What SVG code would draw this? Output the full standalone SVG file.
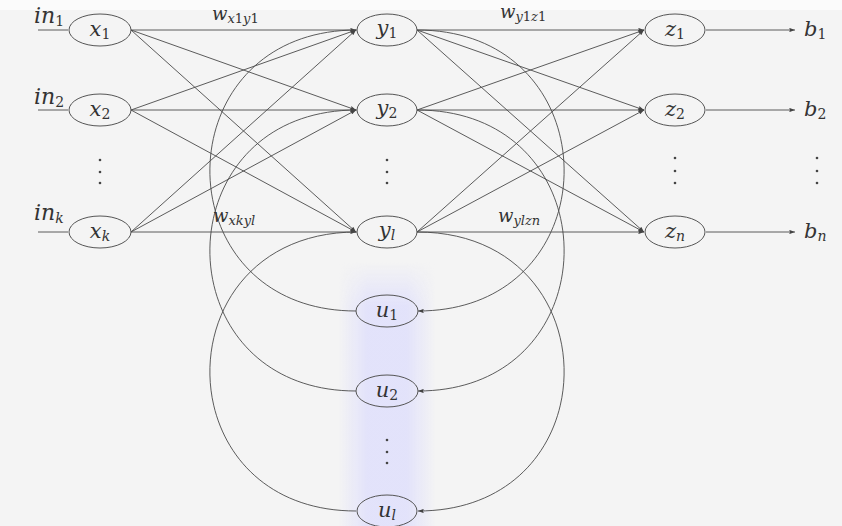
<svg xmlns="http://www.w3.org/2000/svg" width="842" height="526" viewBox="0 0 842 526">
<defs>
<style>
.n{fill:none;stroke:#555;stroke-width:1}
.e{fill:none;stroke:#4a4a4a;stroke-width:0.9}
.t{font-family:"DejaVu Serif","Liberation Serif",serif;font-style:italic;fill:#333}
.lbl{font-size:21px}
.in{font-size:22px}
.w{font-size:18px}
.b{font-size:21px}
.s{font-size:14px}
.ws{font-size:13px}
.u{font-style:normal}
.d{fill:#444}
</style>
<marker id="ar" viewBox="0 0 8 6" refX="8" refY="3" markerWidth="6" markerHeight="4.5" orient="auto" markerUnits="userSpaceOnUse"><path d="M0,0 L8,3 L0,6 Q2.5,3 0,0Z" fill="#444"/></marker>
<linearGradient id="bh" x1="0" y1="0" x2="1" y2="0">
<stop offset="0" stop-color="#dedefc" stop-opacity="0"/>
<stop offset="0.3" stop-color="#dedefc" stop-opacity="0.8"/>
<stop offset="0.7" stop-color="#dedefc" stop-opacity="0.8"/>
<stop offset="1" stop-color="#dedefc" stop-opacity="0"/>
</linearGradient>
<linearGradient id="bv" x1="0" y1="0" x2="0" y2="1">
<stop offset="0" stop-color="#fff" stop-opacity="0"/>
<stop offset="1" stop-color="#fff" stop-opacity="1"/>
</linearGradient>
<mask id="mv" maskUnits="userSpaceOnUse" x="330" y="250" width="115" height="276"><rect x="330" y="262" width="115" height="44" fill="url(#bv)"/><rect x="330" y="305" width="115" height="221" fill="#fff"/></mask>
</defs>
<rect width="842" height="526" fill="#f4f4f4"/>
<rect width="842" height="10" fill="#fbfbfb"/>
<rect x="338" y="262" width="98" height="264" fill="url(#bh)" mask="url(#mv)"/>

<g id="connectors">
<line class="e" x1="38" y1="30" x2="68" y2="30"/>
<line class="e" x1="38" y1="110" x2="68" y2="110"/>
<line class="e" x1="38" y1="232" x2="68" y2="232"/>
<g marker-end="url(#ar)">
<line class="e" x1="131" y1="30" x2="356" y2="30"/>
<line class="e" x1="131" y1="30" x2="356" y2="110"/>
<line class="e" x1="131" y1="30" x2="356" y2="232"/>
<line class="e" x1="131" y1="110" x2="356" y2="30"/>
<line class="e" x1="131" y1="110" x2="356" y2="110"/>
<line class="e" x1="131" y1="110" x2="356" y2="232"/>
<line class="e" x1="131" y1="232" x2="356" y2="30"/>
<line class="e" x1="131" y1="232" x2="356" y2="110"/>
<line class="e" x1="131" y1="232" x2="356" y2="232"/>
<line class="e" x1="417" y1="30" x2="644" y2="30"/>
<line class="e" x1="417" y1="30" x2="644" y2="110"/>
<line class="e" x1="417" y1="30" x2="644" y2="232"/>
<line class="e" x1="417" y1="110" x2="644" y2="30"/>
<line class="e" x1="417" y1="110" x2="644" y2="110"/>
<line class="e" x1="417" y1="110" x2="644" y2="232"/>
<line class="e" x1="417" y1="232" x2="644" y2="30"/>
<line class="e" x1="417" y1="232" x2="644" y2="110"/>
<line class="e" x1="417" y1="232" x2="644" y2="232"/>
<line class="e" x1="706" y1="30" x2="795" y2="30"/>
<line class="e" x1="706" y1="110" x2="795" y2="110"/>
<line class="e" x1="706" y1="232" x2="795" y2="232"/>
<path class="e" d="M417,30 C613,30 613,311 418,311"/>
<path class="e" d="M417,110 C613,110 613,391 418,391"/>
<path class="e" d="M417,232 C613,232 613,511 418,511"/>
</g>
<path class="e" d="M356,311 C161,311 161,30 357,30"/>
<path class="e" d="M356,391 C161,391 161,110 357,110"/>
<path class="e" d="M356,511 C161,511 161,232 357,232"/>
</g>

<g id="in-labels" class="t">
<text class="in" x="34" y="23">in<tspan class="s u" dy="3">1</tspan></text>
<text class="in" x="34" y="104">in<tspan class="s u" dy="3">2</tspan></text>
<text class="in" x="34" y="220">in<tspan class="s" dy="3">k</tspan></text>
</g>

<g id="weight-labels" class="t">
<text class="w" x="212" y="20">w<tspan class="ws" dy="3">x</tspan><tspan class="ws u">1</tspan><tspan class="ws">y</tspan><tspan class="ws u">1</tspan></text>
<text class="w" x="500" y="18">w<tspan class="ws" dy="3">y</tspan><tspan class="ws u">1</tspan><tspan class="ws">z</tspan><tspan class="ws u">1</tspan></text>
<text class="w" x="213" y="222">w<tspan class="ws" dy="3">xkyl</tspan></text>
<text class="w" x="498" y="222">w<tspan class="ws" dy="3">ylzn</tspan></text>
</g>

<g id="x1"><ellipse class="n" cx="100" cy="30" rx="31" ry="16"/><text class="t lbl" x="100" y="36" text-anchor="middle">x<tspan class="s u" dy="3">1</tspan></text></g>
<g id="x2"><ellipse class="n" cx="100" cy="110" rx="31" ry="16"/><text class="t lbl" x="100" y="116" text-anchor="middle">x<tspan class="s u" dy="3">2</tspan></text></g>
<g id="xk"><ellipse class="n" cx="100" cy="232" rx="31" ry="16"/><text class="t lbl" x="100" y="238" text-anchor="middle">x<tspan class="s" dy="3">k</tspan></text></g>

<g id="y1"><ellipse class="n" cx="387" cy="30" rx="30" ry="16"/><text class="t lbl" x="387" y="35" text-anchor="middle">y<tspan class="s u" dy="3">1</tspan></text></g>
<g id="y2"><ellipse class="n" cx="387" cy="110" rx="30" ry="16"/><text class="t lbl" x="387" y="115" text-anchor="middle">y<tspan class="s u" dy="3">2</tspan></text></g>
<g id="yl"><ellipse class="n" cx="387" cy="232" rx="30" ry="16"/><text class="t lbl" x="387" y="237" text-anchor="middle">y<tspan class="s" dy="3">l</tspan></text></g>

<g id="z1"><ellipse class="n" cx="675" cy="30" rx="30" ry="16"/><text class="t lbl" x="675" y="36" text-anchor="middle">z<tspan class="s u" dy="3">1</tspan></text></g>
<g id="z2"><ellipse class="n" cx="675" cy="110" rx="30" ry="16"/><text class="t lbl" x="675" y="116" text-anchor="middle">z<tspan class="s u" dy="3">2</tspan></text></g>
<g id="zn"><ellipse class="n" cx="675" cy="232" rx="30" ry="16"/><text class="t lbl" x="675" y="238" text-anchor="middle">z<tspan class="s" dy="3">n</tspan></text></g>

<g id="u1"><ellipse class="n" cx="387" cy="311" rx="31" ry="16"/><text class="t lbl" x="387" y="317" text-anchor="middle">u<tspan class="s u" dy="3">1</tspan></text></g>
<g id="u2"><ellipse class="n" cx="387" cy="391" rx="31" ry="16"/><text class="t lbl" x="387" y="397" text-anchor="middle">u<tspan class="s u" dy="3">2</tspan></text></g>
<g id="ul"><ellipse class="n" cx="387" cy="511" rx="30" ry="16"/><text class="t lbl" x="387" y="517" text-anchor="middle">u<tspan class="s" dy="3">l</tspan></text></g>

<g id="outputs" class="t">
<text class="b" x="804" y="36">b<tspan class="s u" dy="3">1</tspan></text>
<text class="b" x="804" y="116">b<tspan class="s u" dy="3">2</tspan></text>
<text class="b" x="804" y="238">b<tspan class="s" dy="3">n</tspan></text>
</g>

<g id="dots" class="d">
<circle cx="100" cy="160" r="1.3"/><circle cx="100" cy="172" r="1.3"/><circle cx="100" cy="183" r="1.3"/>
<circle cx="387" cy="160" r="1.3"/><circle cx="387" cy="172" r="1.3"/><circle cx="387" cy="183" r="1.3"/>
<circle cx="675" cy="158" r="1.3"/><circle cx="675" cy="171" r="1.3"/><circle cx="675" cy="183" r="1.3"/>
<circle cx="817" cy="158" r="1.3"/><circle cx="817" cy="171" r="1.3"/><circle cx="817" cy="183" r="1.3"/>
<circle cx="387" cy="440" r="1.3"/><circle cx="387" cy="452" r="1.3"/><circle cx="387" cy="463" r="1.3"/>
</g>
</svg>
